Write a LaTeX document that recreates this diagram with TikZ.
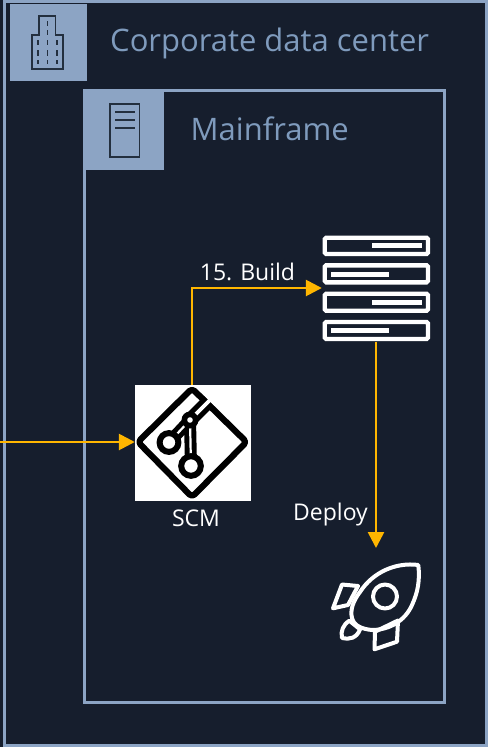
\documentclass[tikz,border=0pt]{standalone}
\usepackage{fontspec}
\setmainfont{Open Sans}
\usetikzlibrary{arrows.meta}
\definecolor{bgc}{HTML}{161E2D}
\definecolor{framec}{HTML}{8CA4C4}
\definecolor{labelc}{HTML}{7F9BBD}
\definecolor{iconc}{HTML}{232F3E}
\definecolor{flowc}{HTML}{FFB600}
\tikzset{
  x=1pt,y=-1pt,
  framebox/.style={draw=framec,line width=3pt,fill=none},
  iconbox/.style={fill=framec,draw=none},
  iconline/.style={draw=iconc,line width=1.7pt},
  grouplabel/.style={text=labelc,font=\fontsize{31}{36}\selectfont,anchor=west,inner sep=0pt},
  whitelabel/.style={text=white,font=\fontsize{23}{27}\selectfont,inner sep=0pt},
  flow/.style={draw=flowc,line width=2.6pt,-{Triangle[length=16pt,width=16pt]}},
  rack/.style={draw=white,line width=4.4pt,rounded corners=1.5pt},
  rackbar/.style={fill=white},
  glyph/.style={draw=white,line width=4pt,line join=round,line cap=round},
  git/.style={draw=black,line width=6.2pt,line join=round}
}
\begin{document}
\begin{tikzpicture}
\useasboundingbox (0,0) rectangle (488,747);
\fill[bgc] (0,0) rectangle (488,747);
% frames
\draw[framebox] (4.7,1) rectangle (486.5,745.5);
\draw[framebox] (84.7,90.5) rectangle (444.2,702);
\fill[iconbox] (10,3.5) rectangle (87,81);
\fill[iconbox] (86,91.8) rectangle (163.5,169.5);
% building icon
\draw[iconline] (39.3,15.7) -- (55.5,15.7) -- (55.5,35) -- (63.3,35) -- (63.3,68.7) -- (31.7,68.7) -- (31.7,35) -- (39.3,35) -- cycle;
\foreach \py in {21,30}{\draw[iconline] (47.5,\py) -- (47.5,\py+5);}
\foreach \px in {37.7,47.5,57.3}{
  \draw[iconline] (\px,40) -- (\px,45);
  \draw[iconline] (\px,50) -- (\px,55.5);
  \draw[iconline] (\px,60) -- (\px,63.5);
}
% server icon
\draw[iconline] (110,104) rectangle (139.5,157);
\draw[iconline] (115,112) -- (134.5,112);
\draw[iconline] (115,120) -- (134.5,120);
\draw[iconline] (115,127.7) -- (134.5,127.7);
\node[grouplabel] (corp) at (110,43) {Corporate data center};
\node[grouplabel] (main) at (190.5,129) {Mainframe};
% SCM
\node[fill=white,minimum width=116pt,minimum height=116pt,inner sep=0pt] (scm) at (193,443) {};
\draw[git,rounded corners=3.5pt] (192,388.5) -- (246.5,442) -- (192,497) -- (138,442) -- cycle;
\draw[draw=black,line width=14pt,line join=round,line cap=butt] (209,401) -- (190,420);
\draw[draw=black,line width=12pt,line join=round] (169,442.5) -- (190,420) -- (191,466);
\draw[draw=white,line width=3.8pt] (220,390) -- (190,420);
\draw[draw=white,line width=2.2pt] (169,442.5) -- (190,420) -- (191,466);
\draw[black,fill=white,line width=6pt] (169,442.5) circle (9.4);
\draw[black,fill=white,line width=6pt] (191,466) circle (9.8);
\fill[black] (190,420) circle (8.5);
\fill[white] (190,420) circle (2.8);
\node[whitelabel,anchor=center] (scml) at (196,518.5) {SCM};
% server stack
\node[inner sep=0pt,minimum width=108pt,minimum height=106pt] (stack) at (376,288.5) {};
\draw[rack] (324.7,237.7) rectangle (428,254);
\draw[rack] (324.7,265.3) rectangle (428,282.3);
\draw[rack] (324.7,293.7) rectangle (428,310.7);
\draw[rack] (324.7,322) rectangle (428,339);
\fill[rackbar] (372,243) rectangle (422,248.4);
\fill[rackbar] (331,271.5) rectangle (389.3,276.9);
\fill[rackbar] (372,299.5) rectangle (422,304.9);
\fill[rackbar] (331,327.8) rectangle (389.3,333.2);
% rocket
\coordinate (rocket) at (376,548);
\draw[glyph] (418.3,565) .. controls (396,562) and (373,572) .. (360,592)
  .. controls (353,601) and (350,610) .. (352,618)
  .. controls (354,626) and (362,629) .. (372,630)
  .. controls (389,630) and (405,621) .. (412,605)
  .. controls (418,592) and (420,580) .. (418.3,565) -- cycle;
\draw[glyph] (385,596.5) circle (12);
\draw[glyph] (342,584.5) -- (358,586) -- (348,605) -- (333,608.3) -- cycle;
\draw[glyph] (375,631.7) -- (398,620.5) -- (397,641.7) -- (374.5,649.3) -- cycle;
\draw[glyph] (349.3,620.7) .. controls (343,625) and (340.5,631) .. (342,638)
  .. controls (349,640) and (357,638) .. (360,629.3) -- cycle;
% connectors
\coordinate (in) at (0,442);
\draw[flow] (in) -- (scm.west |- in);
\draw[flow] (192,385) -- (192,288) -- (stack.west |- 0,288);
\draw[flow] (stack.south) -- (rocket);
\node[whitelabel,anchor=center] (build) at (247.5,272) {15. Build};
\node[whitelabel,anchor=center] (deploy) at (330.5,515) {Deploy};
\end{tikzpicture}
\end{document}
